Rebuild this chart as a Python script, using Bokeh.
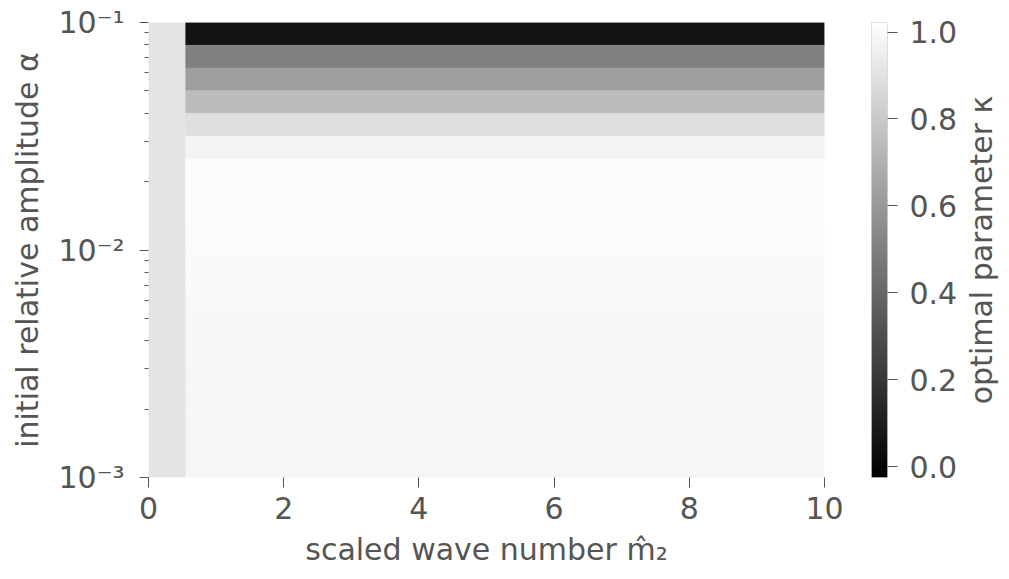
import math
import numpy as np
from bokeh.plotting import figure
from bokeh.layouts import row
from bokeh.models import (ColumnDataSource, LinearColorMapper, FixedTicker,
                          CustomJSTickFormatter, PrintfTickFormatter, Range1d)
from bokeh.embed import file_html
from bokeh.resources import INLINE

# ---------------- data ----------------
# column edges along scaled wave number m2 (first column has no value)
m2_edges = [0.0, 0.55, 10.0]
# row edges along alpha (log-spaced grid, 0.1 decade per row), top to bottom
alpha_edges = [10 ** (-1 - 0.1 * k) for k in range(21)]
# optimal kappa per alpha row (top row = largest alpha), for m2 > 0.55
kappa_rows = [0.052, 0.501, 0.624, 0.747, 0.891, 0.977, 1.006, 1.008, 1.006, 1.002,
              0.998, 0.998, 0.993, 0.989, 0.989, 0.985, 0.985, 0.985, 0.985, 0.985]
first_col_value = float("nan")

x_ticks = [0, 2, 4, 6, 8, 10]
y_ticks = [1e-3, 1e-2, 1e-1]
y_minor = [d * m for d in (1e-3, 1e-2) for m in range(2, 10)]
cb_ticks = [0.0, 0.2, 0.4, 0.6, 0.8, 1.0]
kappa_low, kappa_high = -0.025, 1.022

# ---------------- build cells ----------------
left, right, bottom, top, kap = [], [], [], [], []
for k in range(len(kappa_rows)):
    for j in range(len(m2_edges) - 1):
        left.append(m2_edges[j]); right.append(m2_edges[j + 1])
        top.append(alpha_edges[k]); bottom.append(alpha_edges[k + 1])
        kap.append(first_col_value if j == 0 else kappa_rows[k])
src = ColumnDataSource(dict(left=left, right=right, bottom=bottom, top=top, kappa=kap))

gray = ["#%02x%02x%02x" % (i, i, i) for i in range(256)]
mapper = LinearColorMapper(palette=gray, low=kappa_low, high=kappa_high, nan_color="#e4e4e4")

TXT = "#555555"
FONT = "DejaVu Sans"
FS = "30px"
W1 = 850      # main plot
W2 = 110      # colour bar with tick labels
W3 = 1009 - W1 - W2   # colour bar title


def style_axis(ax):
    ax.axis_line_color = None
    ax.major_tick_in = 0
    ax.minor_tick_in = 0
    ax.major_tick_line_color = TXT
    ax.minor_tick_line_color = TXT
    ax.major_label_text_font = FONT
    ax.major_label_text_font_size = FS
    ax.major_label_text_color = TXT
    ax.axis_label_text_font = FONT
    ax.axis_label_text_font_size = FS
    ax.axis_label_text_color = TXT
    ax.axis_label_text_font_style = "normal"


p = figure(width=W1, height=579, x_range=Range1d(0, 10), y_range=Range1d(1e-3, 1e-1),
           y_axis_type="log", output_backend="svg", toolbar_location=None,
           min_border_left=148, min_border_right=W1 - 824, min_border_top=20,
           min_border_bottom=102)
p.outline_line_color = None
p.grid.visible = False

p.quad(left="left", right="right", bottom="bottom", top="top", source=src,
       fill_color={"field": "kappa", "transform": mapper},
       line_color={"field": "kappa", "transform": mapper}, line_width=0.5)

style_axis(p.xaxis[0])
style_axis(p.yaxis[0])

xa = p.xaxis[0]
xa.ticker = FixedTicker(ticks=x_ticks)
xa.major_tick_out = 10
xa.minor_tick_out = 0
xa.major_label_standoff = 9
xa.axis_label = "scaled wave number m\u0302\u2082"
xa.axis_label_standoff = 10

ya = p.yaxis[0]
ya.ticker = FixedTicker(ticks=y_ticks, minor_ticks=y_minor)
ya.formatter = CustomJSTickFormatter(code="""
const e = Math.round(Math.log10(tick));
const sup = {"-1": "\u207b\u00b9", "-2": "\u207b\u00b2", "-3": "\u207b\u00b3"};
return "10" + sup[String(e)];
""")
ya.major_tick_out = 9
ya.minor_tick_out = 4
ya.major_label_standoff = 15
ya.axis_label = "initial relative amplitude \u03b1"
ya.axis_label_standoff = 10

# ---------------- colour bar as its own small figure ----------------
c = figure(width=W2, height=579, x_range=Range1d(0, 1),
           y_range=Range1d(kappa_low, kappa_high), output_backend="svg",
           toolbar_location=None, x_axis_location=None, y_axis_location="right",
           min_border_left=871 - W1, min_border_right=W2 - (871 - W1) - 19,
           min_border_top=22, min_border_bottom=102)
c.grid.visible = False
c.outline_line_color = "#d8d8d8"
grad = np.linspace(kappa_low, kappa_high, 256).reshape(256, 1)
c.image(image=[grad], x=0, y=kappa_low, dw=1, dh=kappa_high - kappa_low, color_mapper=mapper)

ca = c.yaxis[0]
style_axis(ca)
ca.ticker = FixedTicker(ticks=cb_ticks)
ca.formatter = PrintfTickFormatter(format="%.1f")
ca.major_tick_out = 10
ca.minor_tick_out = 0
ca.major_label_standoff = 12

# ---------------- colour bar title (left axis label of a narrow figure) ----------------
d = figure(width=W3, height=579, x_range=Range1d(0, 1),
           y_range=Range1d(kappa_low, kappa_high), output_backend="svg",
           toolbar_location=None, x_axis_location=None, y_axis_location="left",
           min_border_left=W3 - 14, min_border_right=0,
           min_border_top=22, min_border_bottom=102)
d.grid.visible = False
d.outline_line_color = None
da = d.yaxis[0]
style_axis(da)
da.ticker = FixedTicker(ticks=[])
da.major_tick_out = 0
da.minor_tick_out = 0
da.major_label_standoff = 0
da.major_tick_line_color = None
da.minor_tick_line_color = None
da.axis_label = "optimal parameter \u03ba"
da.axis_label_standoff = 0

layout = row(p, c, d)
open("out.html", "w").write(file_html(layout, INLINE))
